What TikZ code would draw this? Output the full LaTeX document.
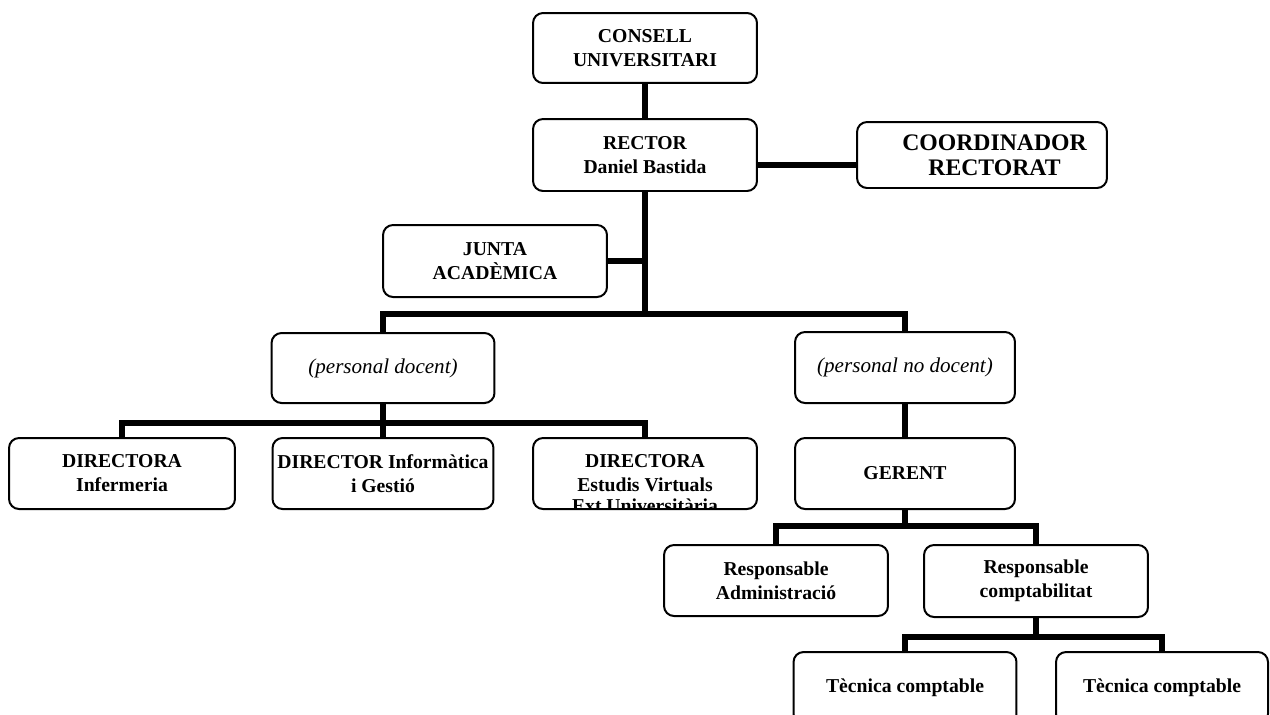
\documentclass[tikz,border=0pt]{standalone}
\usepackage{fontspec}
\setmainfont{Liberation Serif}
\newcommand{\orgfont}{\fontsize{11.2}{13.6}\selectfont\bfseries}
\newcommand{\bigorgfont}{\fontsize{13.5}{14.5}\selectfont\bfseries}
\newcommand{\staffont}{\fontsize{12}{14}\selectfont\itshape}
\tikzset{
  orgbox/.style={draw, rounded corners=0.2cm, line width=0.04cm, fill=white,
    minimum width=4.48cm, minimum height=1.42cm, align=center, inner sep=1pt,
    font=\orgfont},
  link/.style={line width=0.13cm, line join=miter},
}
\begin{document}
\begin{tikzpicture}[x=0.02cm, y=-0.02cm]
  \useasboundingbox (0,0) rectangle (1270,714);
  \clip (0,0) rectangle (1270,714);
  % top of the tree
  \node[orgbox, minimum height=1.4cm] (consell) at (645,48) {CONSELL\\UNIVERSITARI};
  \node[orgbox, minimum height=1.44cm] (rector) at (645,155) {RECTOR\\Daniel Bastida};
  \node[orgbox, minimum width=5cm, minimum height=1.32cm, font=\bigorgfont] (coord)
    at (982,155) {\hspace*{0.5cm}COORDINADOR\\\hspace*{0.5cm}RECTORAT};
  \node[orgbox, minimum height=1.44cm] (junta) at (495,261) {JUNTA\\ACADÈMICA};
  % staff groups
  \node[orgbox, minimum width=4.46cm, minimum height=1.4cm, font=\staffont] (docent)
    at (383,368) {(personal docent)};
  \node[orgbox, minimum width=4.4cm, font=\staffont] (nodocent)
    at (905,367.5) {(personal no docent)};
  % directors
  \node[orgbox, minimum width=4.52cm] (dirinf) at (122,473.5) {DIRECTORA\\Infermeria};
  \node[orgbox, minimum width=4.42cm] (dirinfo) at (383,473.5) {DIRECTOR Informàtica\\i Gestió};
  \node[orgbox, path picture={
      \node[anchor=base, font=\orgfont] (extuni)
        at ([yshift=-0.78cm]path picture bounding box.center) {Ext.Universitària};
    }] (dirvirt) at (645,473.5) {DIRECTORA\\Estudis Virtuals};
  \node[orgbox, minimum width=4.4cm] (gerent) at (905,473.5) {GERENT};
  % administration
  \node[orgbox] (respadm) at (776,580.5) {Responsable\\Administració};
  \node[orgbox, minimum height=1.44cm] (respcomp) at (1036,581) {Responsable\\comptabilitat};
  \node[orgbox, minimum width=4.46cm, minimum height=1.44cm] (tec1) at (905,688) {Tècnica comptable};
  \node[orgbox, minimum width=4.24cm, minimum height=1.44cm] (tec2) at (1162,688) {Tècnica comptable};
  % connectors
  \coordinate (rclink) at (800,165);
  \coordinate (hub) at (645,314);
  \coordinate (dochub) at ([yshift=-0.38cm]docent.south);
  \coordinate (gerhub) at ([yshift=-0.32cm]gerent.south);
  \coordinate (comphub) at ([yshift=-0.38cm]respcomp.south);
  \draw[link] (consell) -- (rector);
  \draw[link] (rector.east |- rclink) -- (coord.west |- rclink);
  \draw[link] (rector) -- (hub);
  \draw[link] (junta) -- (junta -| hub);
  \draw[link] (docent.north) |- (hub) -| (nodocent.north);
  \draw[link] (docent) -- (dirinfo);
  \draw[link] (dirinf.north) |- (dochub) -| (dirvirt.north);
  \draw[link] (nodocent) -- (gerent);
  \draw[link] (gerent) -- (gerhub);
  \draw[link] (respadm.north) |- (gerhub) -| (respcomp.north);
  \draw[link] (respcomp) -- (comphub);
  \draw[link] (tec1.north) |- (comphub) -| (tec2.north);
\end{tikzpicture}
\end{document}
